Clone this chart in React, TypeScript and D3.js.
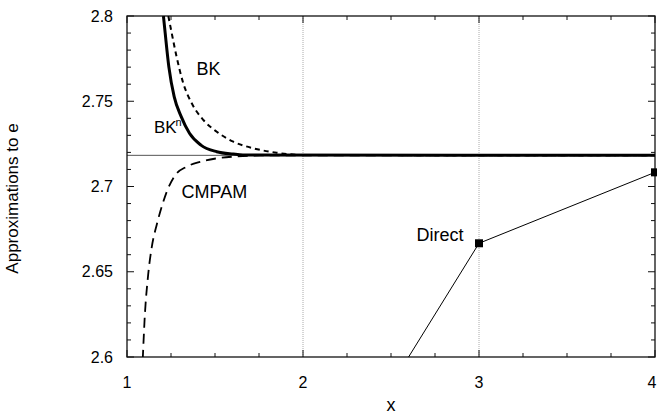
import React from 'react';
import * as d3 from 'd3';

// values
const xTicks = [1, 2, 3, 4];
const yTicks = [2.6, 2.65, 2.7, 2.75, 2.8];
const eValue = 2.71828;

const bkX = [1.235, 1.254, 1.282, 1.32, 1.368, 1.434, 1.51, 1.604, 1.718, 1.851, 2.0, 4.0];
const bkY = [2.8, 2.79, 2.776, 2.7605, 2.7488, 2.739, 2.7321, 2.7263, 2.7224, 2.7198, 2.7185, 2.71828];

const bknX = [1.207, 1.217, 1.238, 1.268, 1.308, 1.355, 1.42, 1.51, 1.604, 1.659, 4.0];
const bknY = [2.8, 2.7899, 2.77, 2.7527, 2.741, 2.7312, 2.7243, 2.7204, 2.719, 2.7185, 2.71828];

const cmpamX = [1.085, 1.09, 1.1, 1.12, 1.14, 1.17, 1.2, 1.23, 1.273, 1.339, 1.415, 1.51, 1.602, 1.756, 4.0];
const cmpamY = [2.589, 2.6, 2.622, 2.648, 2.664, 2.678, 2.689, 2.698, 2.7065, 2.7116, 2.7145, 2.7165, 2.7175, 2.7182, 2.71828];

const directX = [2, 3, 4];
const directY = [2.5, 2.6667, 2.7083];

const W = 657;
const H = 415;
const margin = { top: 16, right: 2, bottom: 58, left: 127 };

export default function App() {
  const innerW = W - margin.left - margin.right;
  const innerH = H - margin.top - margin.bottom;

  const x = d3.scaleLinear().domain([1, 4]).range([0, innerW]);
  const y = d3.scaleLinear().domain([2.6, 2.8]).range([innerH, 0]);

  const line = d3.line<[number, number]>()
    .x(d => x(d[0]))
    .y(d => y(d[1]))
    .curve(d3.curveMonotoneX);
  const straight = d3.line<[number, number]>()
    .x(d => x(d[0]))
    .y(d => y(d[1]));

  const zip = (a: number[], b: number[]) => a.map((v, i) => [v, b[i]] as [number, number]);

  const xMinor = d3.range(1, 4.001, 0.25);
  const yMinor = d3.range(2.6, 2.8001, 0.01);
  const font = 'Arial, "Liberation Sans", sans-serif';

  return (
    <svg width={W} height={H} style={{ position: 'absolute', left: 0, top: 0, background: '#fff' }}>
      <defs>
        <clipPath id="plot">
          <rect x={0} y={0} width={innerW} height={innerH} />
        </clipPath>
      </defs>
      <g transform={`translate(${margin.left},${margin.top})`} fontFamily={font}>
        {/* vertical grid at integer x */}
        {[2, 3].map(t => (
          <line key={t} x1={x(t)} x2={x(t)} y1={0} y2={innerH} stroke="#aaa" strokeWidth={1} strokeDasharray="1,1" />
        ))}
        {/* thin line at e */}
        <line x1={0} x2={innerW} y1={y(eValue)} y2={y(eValue)} stroke="#555" strokeWidth={1} />

        {/* frame */}
        <rect x={0} y={0} width={innerW} height={innerH} fill="none" stroke="#111" strokeWidth={1.3} />

        {/* minor / major ticks */}
        {xMinor.map((t, i) => {
          const len = i % 4 === 0 ? 7 : 4;
          return (
            <g key={'xt' + i}>
              <line x1={x(t)} x2={x(t)} y1={innerH} y2={innerH - len} stroke="#111" />
              <line x1={x(t)} x2={x(t)} y1={0} y2={len} stroke="#111" />
            </g>
          );
        })}
        {yMinor.map((t, i) => {
          const len = i % 5 === 0 ? 7 : 4;
          return (
            <g key={'yt' + i}>
              <line x1={0} x2={len} y1={y(t)} y2={y(t)} stroke="#111" />
              <line x1={innerW} x2={innerW - len} y1={y(t)} y2={y(t)} stroke="#111" />
            </g>
          );
        })}

        <g clipPath="url(#plot)" fill="none">
          <path d={line(zip(cmpamX, cmpamY)) ?? ''} stroke="#000" strokeWidth={1.8} strokeDasharray="10,6" />
          <path d={line(zip(bkX, bkY)) ?? ''} stroke="#000" strokeWidth={2} strokeDasharray="5,4" />
          <path d={line(zip(bknX, bknY)) ?? ''} stroke="#000" strokeWidth={3} />
          <path d={straight(zip(directX, directY)) ?? ''} stroke="#000" strokeWidth={1} />
        </g>
        {directX.slice(1).map((v, i) => (
          <rect key={'m' + i} x={x(v) - 4} y={y(directY[i + 1]) - 4} width={8} height={8} fill="#000" />
        ))}

        {/* series labels */}
        <text x={x(1.395)} y={y(2.7655)} fontSize={18}>BK</text>
        <text x={x(1.153)} y={y(2.7313)} fontSize={17}>BK<tspan dy={-7} dx={-1} fontSize={11}>n</tspan></text>
        <text x={x(1.31)} y={y(2.6935)} fontSize={18}>CMPAM</text>
        <text x={x(2.645)} y={y(2.668)} fontSize={18}>Direct</text>

        {/* tick labels */}
        {yTicks.map(t => (
          <text key={'yl' + t} x={-14} y={y(t)} dy="0.35em" textAnchor="end" fontSize={16}>{String(t)}</text>
        ))}
        {xTicks.map(t => (
          <text key={'xl' + t} x={x(t) - (t === 4 ? 3 : 0)} y={innerH + 31} textAnchor="middle" fontSize={16}>{String(t)}</text>
        ))}
        <text x={innerW / 2} y={innerH + 54} textAnchor="middle" fontSize={18}>x</text>
        <text transform={`translate(${-109},${innerH / 2 + 12}) rotate(-90)`} textAnchor="middle" fontSize={17}>Approximations to e</text>
      </g>
    </svg>
  );
}
